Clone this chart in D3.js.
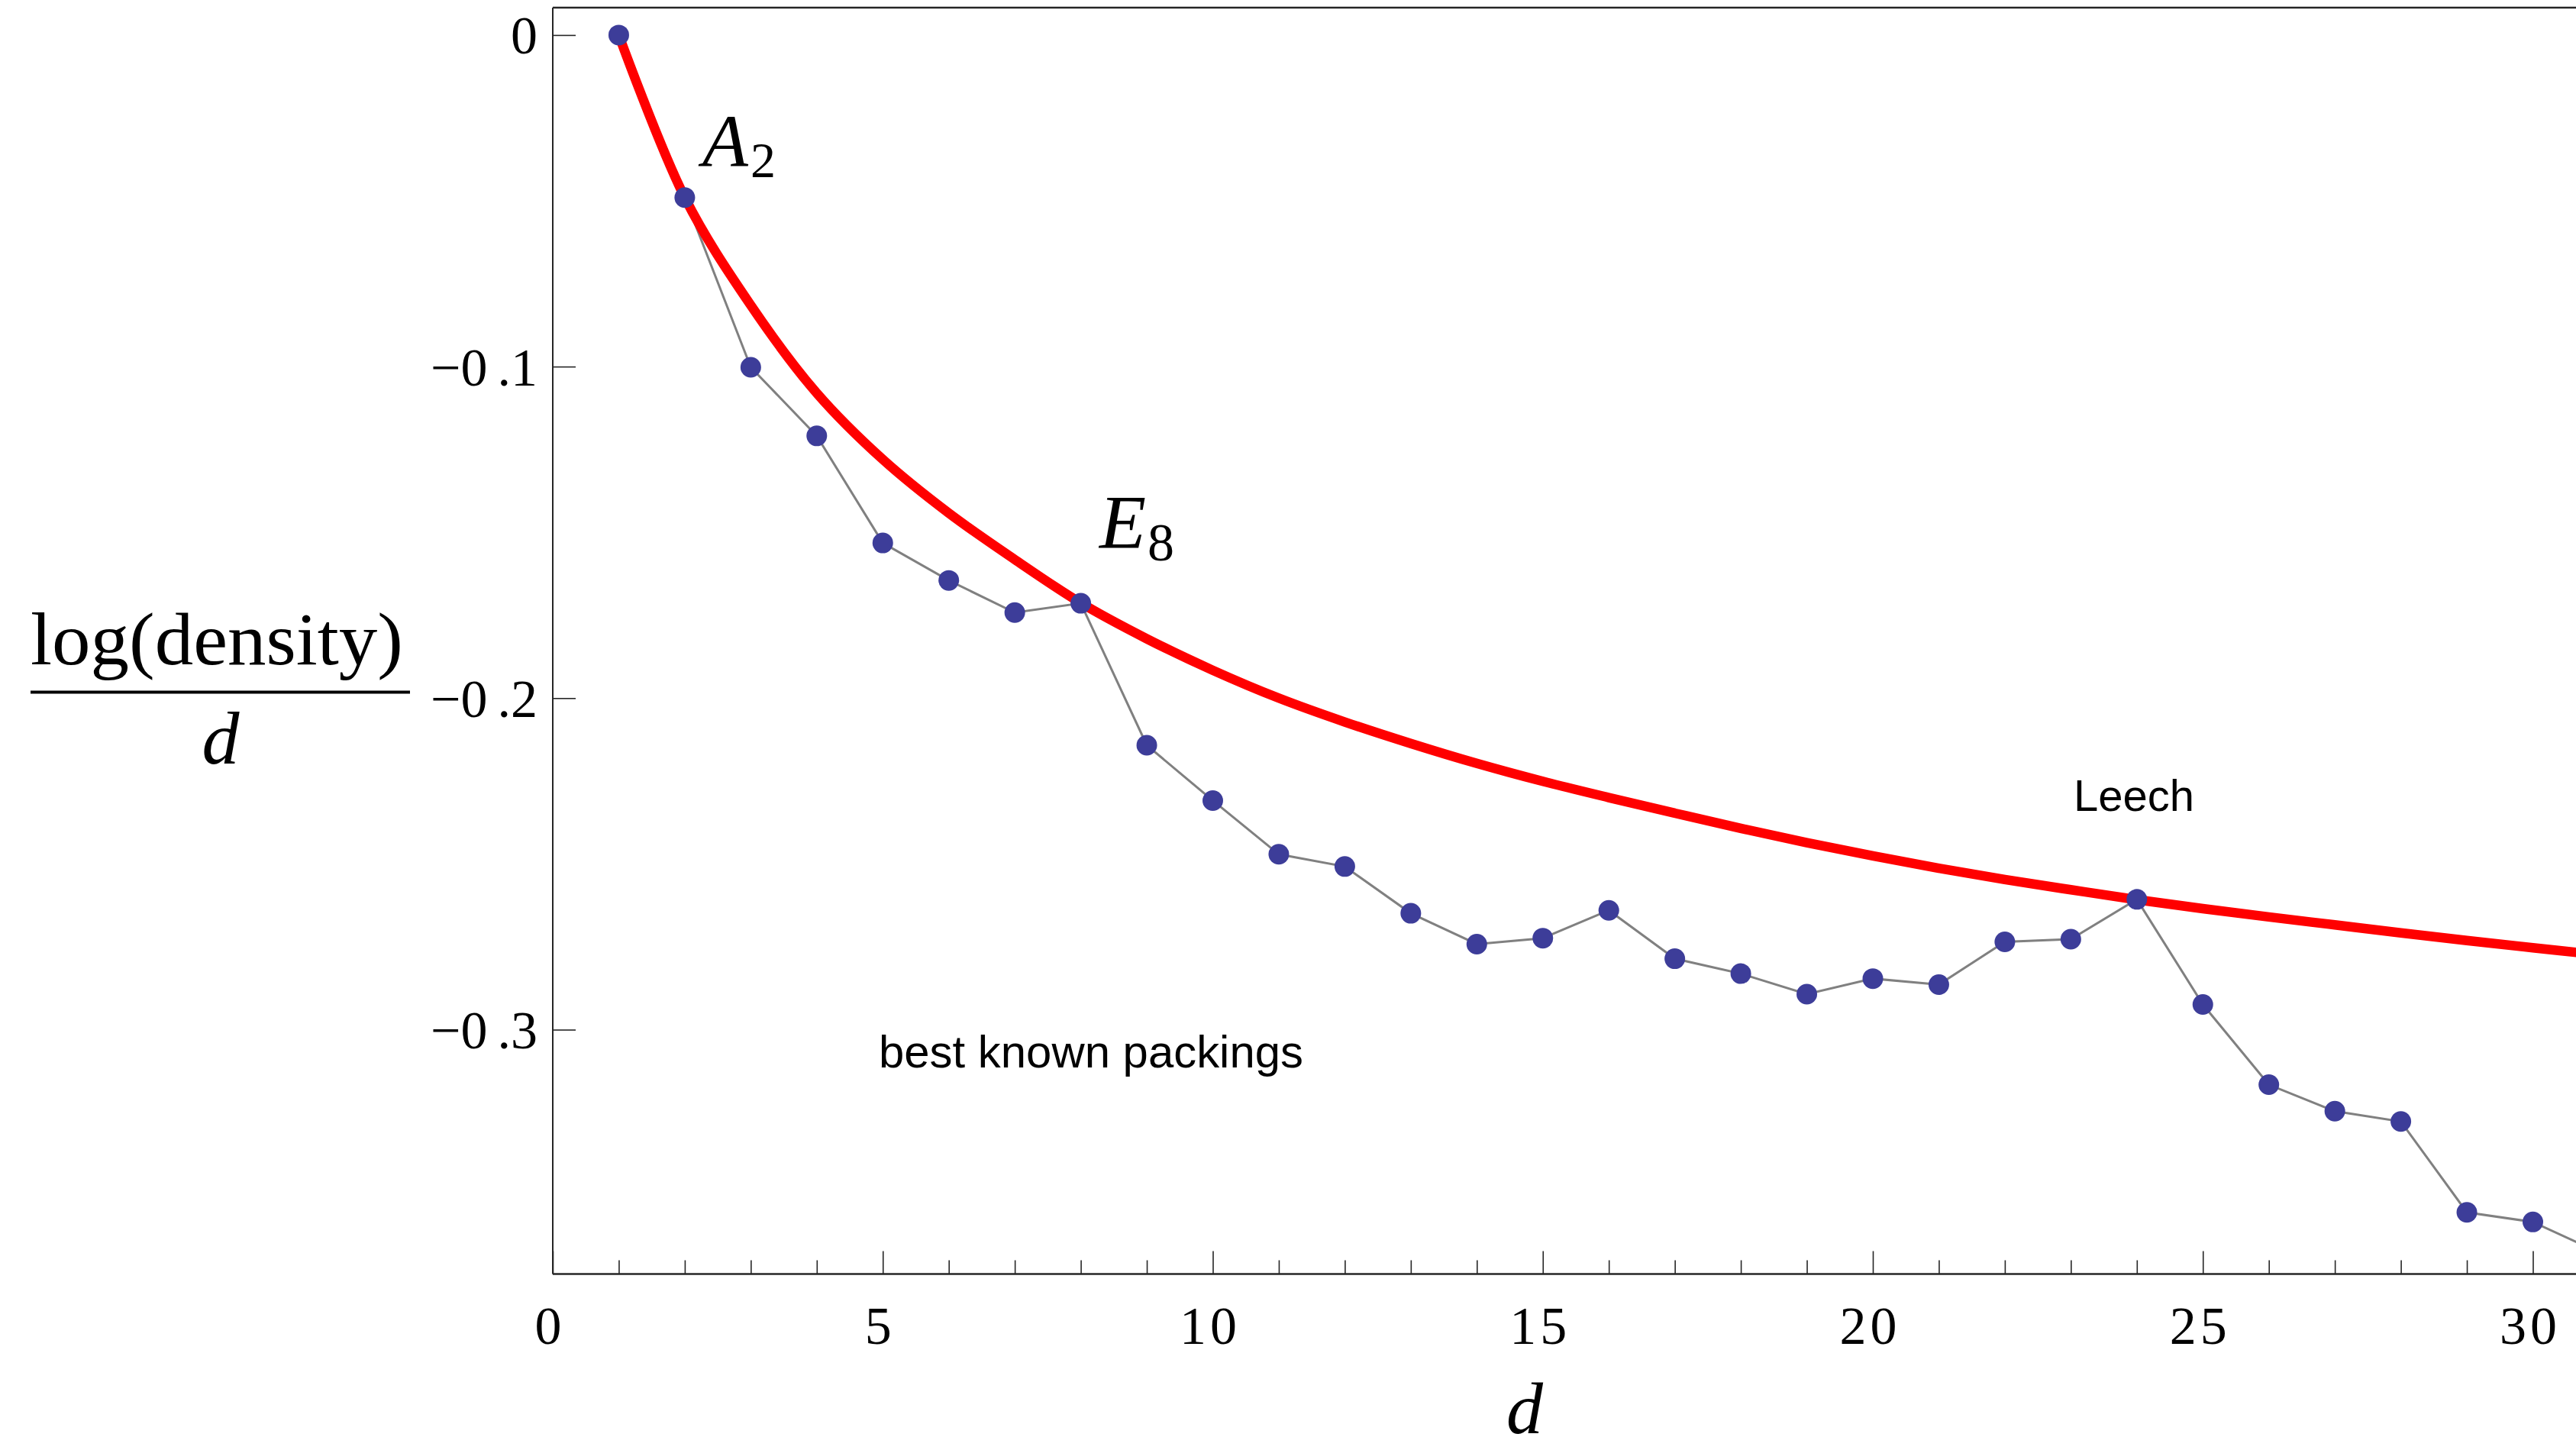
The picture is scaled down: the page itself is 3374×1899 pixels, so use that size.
<!DOCTYPE html>
<html>
<head>
<meta charset="utf-8">
<script src="https://cdn.jsdelivr.net/npm/d3@7"></script>
<style>
  html, body { margin: 0; padding: 0; background: #fff; }
  svg { display: block; }
</style>
</head>
<body>
<svg id="chart" width="3374" height="1899"></svg>
<script>
// ---- data ----
const dims = [1,2,3,4,5,6,7,8,9,10,11,12,13,14,15,16,17,18,19,20,21,22,23,24,25,26,27,28,29,30,31];
const bestKnown = [0, -0.0490, -0.1002, -0.1209, -0.1532, -0.1645, -0.1742, -0.1714, -0.2142, -0.2309,
  -0.2471, -0.2508, -0.2649, -0.2742, -0.2724, -0.2640, -0.2786, -0.2831, -0.2893, -0.2846,
  -0.2864, -0.2735, -0.2727, -0.2607, -0.2924, -0.3166, -0.3246, -0.3277, -0.3551, -0.3580, -0.3672];
const bound = [0, -0.0490, -0.0815, -0.1080, -0.1280, -0.1442, -0.1582, -0.1713, -0.1821, -0.1916,
  -0.2000, -0.2072, -0.2137, -0.2197, -0.2251, -0.2300, -0.2347, -0.2393, -0.2436, -0.2476,
  -0.2513, -0.2547, -0.2578, -0.2608, -0.2635, -0.2660, -0.2684, -0.2708, -0.2731, -0.2753, -0.2774];
const xTicks = [0,1,2,3,4,5,6,7,8,9,10,11,12,13,14,15,16,17,18,19,20,21,22,23,24,25,26,27,28,29,30,31,32];
const xMajor = [0,5,10,15,20,25,30];
const yTicks = [0, -0.1, -0.2, -0.3];
const annotations = [
  {d: 2, main: "A", sub: "2"},
  {d: 8, main: "E", sub: "8"}
];

// ---- layout ----
const plotL = 724, plotT = 10, plotR = 3380, plotB = 1668.5;
const svg = d3.select("#chart");

const x = d3.scaleLinear().domain([0, 30]).range([724, 3317.5]);
const y = d3.scaleLinear().domain([0, -0.3]).range([45.9, 1348.5]);

const serif = "'Liberation Serif', 'Times New Roman', 'DejaVu Serif', serif";
const sans = "'Liberation Sans', Arial, Helvetica, sans-serif";

// frame
const frame = svg.append("g").attr("stroke", "#262626").attr("fill", "none");
frame.append("line").attr("x1", plotL).attr("x2", plotR).attr("y1", plotT).attr("y2", plotT).attr("stroke-width", 2.5);
frame.append("line").attr("x1", plotL).attr("x2", plotL).attr("y1", plotT).attr("y2", plotB).attr("stroke-width", 2);
frame.append("line").attr("x1", plotL).attr("x2", plotR).attr("y1", plotB).attr("y2", plotB).attr("stroke-width", 2.5);

// x axis
const xAxis = d3.axisBottom(x)
  .tickValues(xTicks)
  .tickSize(-18)
  .tickSizeOuter(0)
  .tickPadding(42)
  .tickFormat(d => xMajor.includes(d) ? String(d) : "");
const gx = svg.append("g").attr("transform", `translate(0,${plotB})`).call(xAxis);
gx.select(".domain").remove();
gx.selectAll(".tick line").attr("stroke", "#262626").attr("stroke-width", 1.6)
  .attr("y2", d => xMajor.includes(d) ? -30 : -18);
gx.selectAll(".tick text")
  .attr("font-family", serif).attr("font-size", 70).attr("fill", "#000")
  .attr("letter-spacing", 5).attr("dx", -4);

// y axis
const yAxis = d3.axisLeft(y)
  .tickValues(yTicks)
  .tickSize(-30)
  .tickSizeOuter(0)
  .tickPadding(20);
const gy = svg.append("g").attr("transform", `translate(${plotL},0)`).call(yAxis);
gy.select(".domain").remove();
gy.selectAll(".tick line").attr("stroke", "#262626").attr("stroke-width", 1.6);
gy.selectAll(".tick text")
  .attr("font-family", serif).attr("font-size", 70).attr("fill", "#000")
  .attr("dy", 24)
  .each(function(d) {
    const t = d3.select(this);
    t.text(null);
    if (d === 0) {
      t.append("tspan").text("0");
    } else {
      const s = Math.abs(d).toFixed(1).split(".");
      t.append("tspan").text("\u2212" + s[0]);
      t.append("tspan").attr("dx", 13).text("." + s[1]);
    }
  });

// data series
const pts = dims.map((d, i) => ({d, v: bestKnown[i]}));
const bpts = dims.map((d, i) => ({d, v: bound[i]}));

const line = d3.line().x(p => x(p.d)).y(p => y(p.v));
svg.append("path").datum(pts)
  .attr("d", line)
  .attr("fill", "none").attr("stroke", "#808080").attr("stroke-width", 3);

const curve = d3.line().x(p => x(p.d)).y(p => y(p.v)).curve(d3.curveCatmullRom.alpha(0.5));
svg.append("path").datum(bpts)
  .attr("d", curve)
  .attr("fill", "none").attr("stroke", "#ff0000").attr("stroke-width", 12.5)
  .attr("stroke-linecap", "butt");

svg.append("g").selectAll("circle").data(pts).join("circle")
  .attr("cx", p => x(p.d)).attr("cy", p => y(p.v)).attr("r", 13.5)
  .attr("fill", "#3d3d99");

// annotations
const aA = annotations[0], aE = annotations[1];
svg.append("text").attr("x", 920).attr("y", 217)
  .attr("font-family", serif).attr("font-style", "italic").attr("font-size", 98).text(aA.main);
svg.append("text").attr("x", 983).attr("y", 232)
  .attr("font-family", serif).attr("font-size", 66).text(aA.sub);
svg.append("text").attr("x", 1440).attr("y", 717)
  .attr("font-family", serif).attr("font-style", "italic").attr("font-size", 100).text(aE.main);
svg.append("text").attr("x", 1503).attr("y", 733.5)
  .attr("font-family", serif).attr("font-size", 70).text(aE.sub);

svg.append("text").attr("x", 2716).attr("y", 1062)
  .attr("font-family", sans).attr("font-size", 58).attr("fill", "#000").text("Leech");
svg.append("text").attr("x", 1151).attr("y", 1398)
  .attr("font-family", sans).attr("font-size", 59).attr("fill", "#000")
  .attr("textLength", 556).attr("lengthAdjust", "spacingAndGlyphs")
  .text("best known packings");

// axis titles
svg.append("text").attr("x", 1997).attr("y", 1877).attr("text-anchor", "middle")
  .attr("font-family", serif).attr("font-style", "italic").attr("font-size", 96).text("d");

svg.append("text").attr("x", 40).attr("y", 870)
  .attr("font-family", serif).attr("font-size", 98)
  .attr("textLength", 488).attr("lengthAdjust", "spacingAndGlyphs")
  .text("log(density)");
svg.append("line").attr("x1", 40).attr("x2", 537).attr("y1", 906.5).attr("y2", 906.5)
  .attr("stroke", "#000").attr("stroke-width", 4);
svg.append("text").attr("x", 289).attr("y", 1000).attr("text-anchor", "middle")
  .attr("font-family", serif).attr("font-style", "italic").attr("font-size", 98).text("d");
</script>
</body>
</html>
